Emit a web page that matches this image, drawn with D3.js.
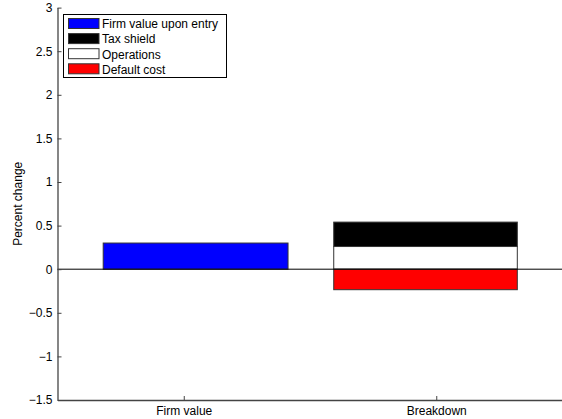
<!DOCTYPE html>
<html><head><meta charset="utf-8">
<script src="https://cdn.jsdelivr.net/npm/d3@7"></script>
<style>body{margin:0;background:#fff}svg{display:block;font-family:"Liberation Sans",Arial,sans-serif}</style>
</head><body>
<svg id="c" width="562" height="419"></svg>
<script>
const categories = ["Firm value", "Breakdown"];
const firmValue = [0.30];          // Firm value upon entry
const taxShield = [0.28];          // stacked on operations (top 0.54)
const operations = [0.26];
const defaultCost = [-0.235];
const yTicks = [-1.5, -1, -0.5, 0, 0.5, 1, 1.5, 2, 2.5, 3];
const legendNames = ["Firm value upon entry", "Tax shield", "Operations", "Default cost"];
const legendColors = ["#0000ff", "#000000", "#ffffff", "#ff0000"];

const svg = d3.select("#c");
const L = 57.5, R = 562.5, T = 7.6, B = 400;
const FS = 12;
const x = d3.scaleLinear().domain([0.5, 2.5]).range([L, R]);
const y = d3.scaleLinear().domain([-1.5, 3]).range([B, T]);

// bars
const edge = "#333";
svg.append("rect").attr("x", x(1 - 0.319)).attr("width", x(1.413) - x(1 - 0.319))
  .attr("y", y(firmValue[0])).attr("height", y(0) - y(firmValue[0]))
  .attr("fill", legendColors[0]).attr("stroke", edge).attr("stroke-width", 1);

const bx0 = x(2 - 0.406), bx1 = x(2 + 0.321);
const segs = [
  {lo: operations[0], hi: operations[0] + taxShield[0], c: legendColors[1]},
  {lo: 0, hi: operations[0], c: legendColors[2]},
  {lo: defaultCost[0], hi: 0, c: legendColors[3]}
];
svg.selectAll(".seg").data(segs).enter().append("rect")
  .attr("x", bx0).attr("width", bx1 - bx0)
  .attr("y", d => y(d.hi)).attr("height", d => y(d.lo) - y(d.hi))
  .attr("fill", d => d.c).attr("stroke", edge).attr("stroke-width", 1);

// zero line
svg.append("line").attr("x1", L).attr("x2", R).attr("y1", y(0)).attr("y2", y(0))
  .attr("stroke", "#000").attr("stroke-width", 1);

// axes
const fmt = d => d < 0 ? "\u2212" + Math.abs(d) : String(d);
const ya = svg.append("g").attr("transform", `translate(${L},0)`)
  .call(d3.axisLeft(y).tickValues(yTicks).tickFormat(fmt).tickSizeInner(-4).tickSizeOuter(0).tickPadding(5));
const xa = svg.append("g").attr("transform", `translate(0,${B})`)
  .call(d3.axisBottom(x).tickValues([1, 2]).tickFormat(d => categories[d - 1]).tickSizeInner(-4).tickSizeOuter(0).tickPadding(6));
[ya, xa].forEach(g => {
  g.select(".domain").attr("stroke", "#444").attr("stroke-width", 1.3);
  g.selectAll(".tick line").attr("stroke", "#444");
  g.selectAll("text").attr("font-size", FS).attr("fill", "#000").attr("font-family", "Liberation Sans, Arial, sans-serif");
});

// y label
svg.append("text").attr("transform", `translate(22,${(T + B) / 2}) rotate(-90)`)
  .attr("text-anchor", "middle").attr("font-size", FS).text("Percent change");

// legend
const lg = svg.append("g");
lg.append("rect").attr("x", 63.5).attr("y", 14.5).attr("width", 163).attr("height", 63)
  .attr("fill", "#fff").attr("stroke", "#000");
legendNames.forEach((n, i) => {
  const yy = 18.5 + i * 15.1;
  lg.append("rect").attr("x", 68.5).attr("y", yy).attr("width", 30.5).attr("height", 10)
    .attr("fill", legendColors[i]).attr("stroke", "#333");
  lg.append("text").attr("x", 102).attr("y", yy + 9.8).attr("font-size", FS).text(n);
});
</script>
</body></html>
